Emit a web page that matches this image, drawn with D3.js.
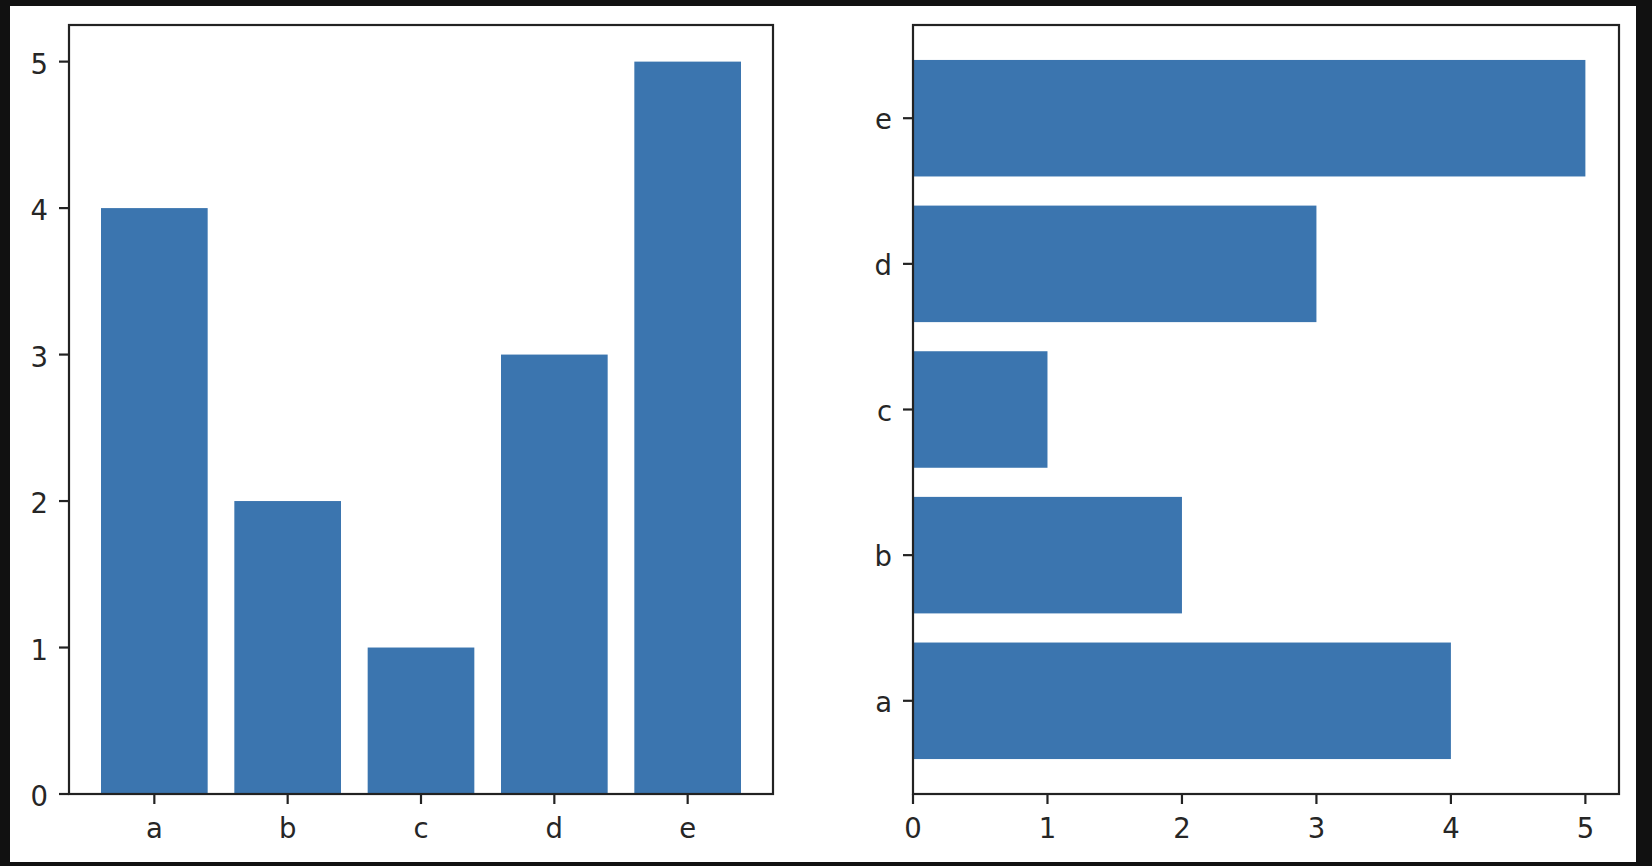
<!DOCTYPE html>
<html><head><meta charset="utf-8">
<script src="https://cdn.jsdelivr.net/npm/d3@7"></script>
<style>
html,body{margin:0;padding:0;background:#111111;}
svg{display:block;}
text{font-family:"DejaVu Sans",sans-serif;fill:#262626;}
</style></head>
<body>
<svg id="chart" width="1652" height="866"></svg>
<script>
const categories = ["a","b","c","d","e"];
const values = [4,2,1,3,5];
const valueTicks = [0,1,2,3,4,5];

(function(){
const svg = d3.select("#chart");
const barColor = "#3b75af";
const fontSize = 27.5;
const tickLen = 10;
const pad = 10;
const sw = 2.2;

svg.append("rect").attr("x",10).attr("y",6).attr("width",1626).attr("height",856).attr("fill","#ffffff");

const plotTop = 25, plotBottom = 794;

// Left chart: vertical bars
{
  const L = 69, R = 773;
  const x = d3.scaleLinear().domain([-0.64, 4.64]).range([L, R]);
  const y = d3.scaleLinear().domain([0, 5.25]).range([plotBottom, plotTop]);
  const g = svg.append("g");
  g.selectAll("rect.bar").data(values).join("rect").attr("class","bar")
    .attr("x",(d,i)=>x(i-0.4)).attr("width",(d,i)=>x(i+0.4)-x(i-0.4))
    .attr("y",d=>y(d)).attr("height",d=>y(0)-y(d)).attr("fill",barColor);
  g.append("rect").attr("x",L).attr("y",plotTop).attr("width",R-L).attr("height",plotBottom-plotTop)
    .attr("fill","none").attr("stroke","#222").attr("stroke-width",sw);
  valueTicks.forEach(t=>{
    g.append("line").attr("x1",L-tickLen).attr("x2",L).attr("y1",y(t)).attr("y2",y(t)).attr("stroke","#222").attr("stroke-width",sw);
    g.append("text").attr("x",L-tickLen-pad-1).attr("y",y(t)+12).attr("text-anchor","end").attr("font-size",fontSize).text(t);
  });
  categories.forEach((c,i)=>{
    g.append("line").attr("x1",x(i)).attr("x2",x(i)).attr("y1",plotBottom).attr("y2",plotBottom+tickLen).attr("stroke","#222").attr("stroke-width",sw);
    g.append("text").attr("x",x(i)).attr("y",838).attr("text-anchor","middle").attr("font-size",fontSize).text(c);
  });
}

// Right chart: horizontal bars
{
  const L = 913, R = 1619;
  const x = d3.scaleLinear().domain([0, 5.25]).range([L, R]);
  const y = d3.scaleLinear().domain([-0.64, 4.64]).range([plotBottom, plotTop]);
  const g = svg.append("g");
  g.selectAll("rect.bar").data(values).join("rect").attr("class","bar")
    .attr("x",x(0)).attr("width",d=>x(d)-x(0))
    .attr("y",(d,i)=>y(i+0.4)).attr("height",(d,i)=>y(i-0.4)-y(i+0.4)).attr("fill",barColor);
  g.append("rect").attr("x",L).attr("y",plotTop).attr("width",R-L).attr("height",plotBottom-plotTop)
    .attr("fill","none").attr("stroke","#222").attr("stroke-width",sw);
  valueTicks.forEach(t=>{
    g.append("line").attr("x1",x(t)).attr("x2",x(t)).attr("y1",plotBottom).attr("y2",plotBottom+tickLen).attr("stroke","#222").attr("stroke-width",sw);
    g.append("text").attr("x",x(t)).attr("y",838).attr("text-anchor","middle").attr("font-size",fontSize).text(t);
  });
  categories.forEach((c,i)=>{
    g.append("line").attr("x1",L-tickLen).attr("x2",L).attr("y1",y(i)).attr("y2",y(i)).attr("stroke","#222").attr("stroke-width",sw);
    g.append("text").attr("x",L-tickLen-pad-1).attr("y",y(i)+11).attr("text-anchor","end").attr("font-size",fontSize).text(c);
  });
}
})();
</script>
</body></html>
